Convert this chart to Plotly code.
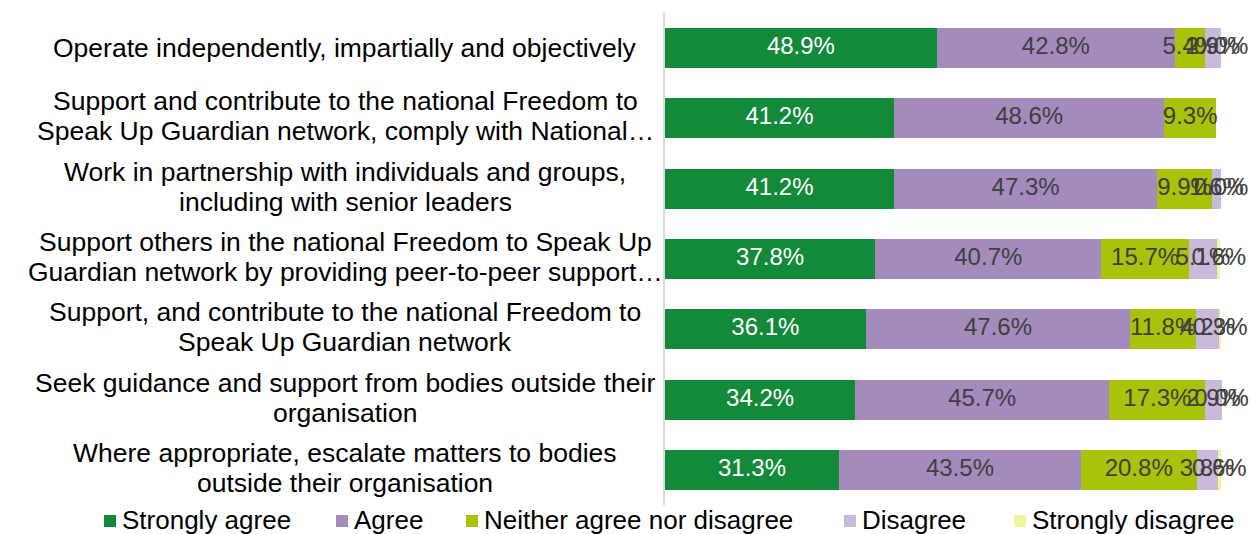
import plotly.graph_objects as go

# Survey statements (top to bottom); "<br>" marks the wrapped line break
categories = [
    "Operate independently, impartially and objectively",
    "Support and contribute to the national Freedom to<br>Speak Up Guardian network, comply with National…",
    "Work in partnership with individuals and groups,<br>including with senior leaders",
    "Support others in the national Freedom to Speak Up<br>Guardian network by providing peer-to-peer support…",
    "Support, and contribute to the national Freedom to<br>Speak Up Guardian network",
    "Seek guidance and support from bodies outside their<br>organisation",
    "Where appropriate, escalate matters to bodies<br>outside their organisation",
]

# Response shares (%) per statement
strongly_agree = [48.9, 41.2, 41.2, 37.8, 36.1, 34.2, 31.3]
agree = [42.8, 48.6, 47.3, 40.7, 47.6, 45.7, 43.5]
neither = [5.4, 9.3, 9.9, 15.7, 11.8, 17.3, 20.8]
disagree = [2.9, None, 1.6, 5.1, 4.2, 2.9, 3.8]
strongly_disagree = [0.0, None, 0.0, 0.6, 0.3, 0.0, 0.6]

series = [
    ("Strongly agree", strongly_agree, "#138A3A", "white"),
    ("Agree", agree, "#A38BBC", "#404040"),
    ("Neither agree nor disagree", neither, "#A9C20A", "#404040"),
    ("Disagree", disagree, "#C9B9DB", "#404040"),
    ("Strongly disagree", strongly_disagree, "#EDF79A", "#404040"),
]

FONT = "Liberation Sans, Arial, sans-serif"
CAT_SIZE = 26.5
LABEL_SIZE = 24
LEGEND_SIZE = 26

# Plot-area geometry in pixels
W, H = 1252, 534
M_L, M_R, M_T, M_B = 665, 2, 13, 29
PW = W - M_L - M_R
PH = H - M_T - M_B

rows = list(range(len(categories)))

fig = go.Figure()

# Stacked bars
for name, vals, color, _ in series:
    fig.add_trace(go.Bar(
        name=name, y=rows, x=vals, orientation="h",
        marker=dict(color=color, line=dict(width=0)),
        hoverinfo="skip", showlegend=False,
    ))

# Value labels centred on each segment (zero-width segments included)
base = [0.0] * len(rows)
for name, vals, color, txtcolor in series:
    xs, ys, ts = [], [], []
    for i, v in enumerate(vals):
        if v is None:
            continue
        xs.append(base[i] + v / 2)
        ys.append(i)
        ts.append(f"{v:.1f}%")
        base[i] += v
    fig.add_trace(go.Scatter(
        x=xs, y=ys, text=ts, mode="text",
        textposition="middle center",
        textfont=dict(family=FONT, size=LABEL_SIZE, color=txtcolor),
        hoverinfo="skip", showlegend=False, cliponaxis=False,
    ))

# Category labels: each line centred on a common column left of the axis
LABEL_CENTER_PX = 345
LINE_STEP = 15
for i, label in enumerate(categories):
    lines = label.split("<br>")
    n = len(lines)
    for k, line in enumerate(lines):
        offset = (k - (n - 1) / 2) * 2 * LINE_STEP
        fig.add_annotation(
            xref="paper", yref="y", x=0, y=i,
            xanchor="center", yanchor="middle",
            xshift=LABEL_CENTER_PX - M_L, yshift=-offset + (2 if n > 1 else 0),
            text=line, showarrow=False,
            font=dict(family=FONT, size=CAT_SIZE, color="#000000"),
        )

# Legend row below the plot: colour key squares with their names
legend_square_px = [104, 336, 466, 844, 1014]
legend_y_px = 520
SQ = 12


def px_to_paper_x(px):
    return (px - M_L) / PW


def px_to_paper_y(py):
    return (H - M_B - py) / PH


for (name, _, color, _), sx in zip(series, legend_square_px):
    fig.add_shape(
        type="rect", xref="paper", yref="paper",
        x0=px_to_paper_x(sx), x1=px_to_paper_x(sx + SQ),
        y0=px_to_paper_y(legend_y_px + 1 + SQ / 2), y1=px_to_paper_y(legend_y_px + 1 - SQ / 2),
        fillcolor=color, line=dict(width=0),
    )
    fig.add_annotation(
        xref="paper", yref="paper",
        x=px_to_paper_x(sx + SQ + 5), y=px_to_paper_y(legend_y_px),
        xanchor="left", yanchor="middle", borderpad=0,
        text=name, showarrow=False,
        font=dict(family=FONT, size=LEGEND_SIZE, color="#000000"),
    )

fig.update_layout(
    width=W, height=H,
    margin=dict(l=M_L, r=M_R, t=M_T, b=M_B),
    barmode="stack",
    bargap=0.43,
    plot_bgcolor="white",
    paper_bgcolor="white",
    showlegend=False,
    xaxis=dict(range=[0, PW / 5.56], visible=False, fixedrange=True),
    yaxis=dict(
        range=[6.5, -0.5],
        showticklabels=False,
        showgrid=False,
        zeroline=False,
        showline=True, linecolor="#D9D9D9", linewidth=2,
        ticks="",
    ),
)

fig.write_html("out.html")
